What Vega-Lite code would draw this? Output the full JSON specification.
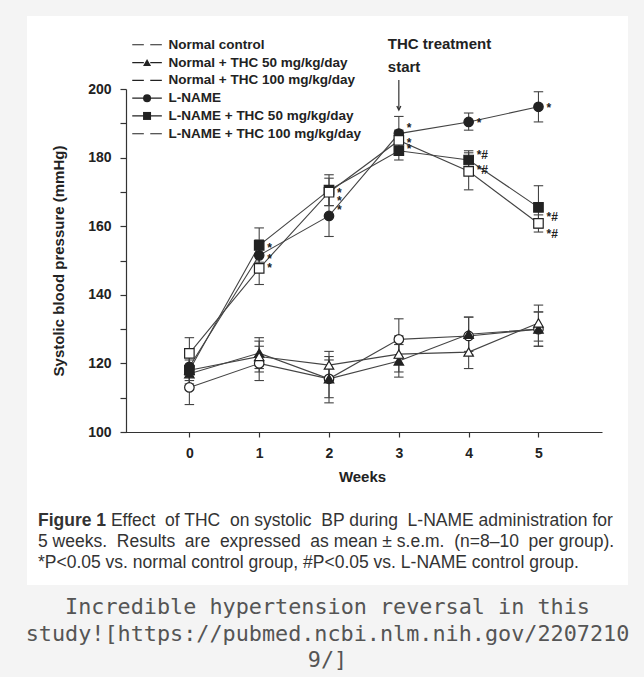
{
  "$schema": "https://vega.github.io/schema/vega-lite/v6.json",
  "background": "#f4f4f4",
  "padding": {"left": 25, "top": 16, "right": 18, "bottom": 5},
  "title": {
    "text": ["Incredible hypertension reversal in this", "study![https://pubmed.ncbi.nlm.nih.gov/2207210", "9/]"],
    "orient": "bottom", "anchor": "middle", "offset": 12,
    "font": "DejaVu Sans Mono", "fontSize": 21.8, "fontWeight": "normal", "color": "#555555", "lineHeight": 26.5
  },
  "config": {
    "view": {"stroke": null, "fill": "white"},
    "axis": {"grid": false, "domainColor": "#333333", "tickColor": "#333333", "domainWidth": 1.2, "tickWidth": 1.2,
      "labelFont": "Liberation Sans", "labelFontWeight": "bold", "labelColor": "#222222", "labelFontSize": 14,
      "titleFont": "Liberation Sans", "titleFontWeight": "bold", "titleColor": "#222222", "titleFontSize": 15}
  },
  "datasets": {
    "bp": [
      {"week": 0, "group": "Normal control", "mean": 113, "lo": 108, "hi": 118},
      {"week": 1, "group": "Normal control", "mean": 120, "lo": 115, "hi": 125},
      {"week": 2, "group": "Normal control", "mean": 115.5, "lo": 110, "hi": 121},
      {"week": 3, "group": "Normal control", "mean": 127, "lo": 121.5, "hi": 133},
      {"week": 4, "group": "Normal control", "mean": 128, "lo": 122.5, "hi": 133.5},
      {"week": 5, "group": "Normal control", "mean": 130, "lo": 125, "hi": 135},
      {"week": 0, "group": "Normal + THC 50 mg/kg/day", "mean": 117, "lo": 113, "hi": 121},
      {"week": 1, "group": "Normal + THC 50 mg/kg/day", "mean": 123, "lo": 118.5, "hi": 127.5},
      {"week": 2, "group": "Normal + THC 50 mg/kg/day", "mean": 115.5, "lo": 108.5, "hi": 122},
      {"week": 3, "group": "Normal + THC 50 mg/kg/day", "mean": 120.7, "lo": 116, "hi": 125.5},
      {"week": 4, "group": "Normal + THC 50 mg/kg/day", "mean": 128.5, "lo": 123.5, "hi": 133.5},
      {"week": 5, "group": "Normal + THC 50 mg/kg/day", "mean": 130, "lo": 125, "hi": 135},
      {"week": 0, "group": "Normal + THC 100 mg/kg/day", "mean": 118, "lo": 113.5, "hi": 122.5},
      {"week": 1, "group": "Normal + THC 100 mg/kg/day", "mean": 122, "lo": 117.5, "hi": 126.5},
      {"week": 2, "group": "Normal + THC 100 mg/kg/day", "mean": 119.5, "lo": 115.5, "hi": 123.5},
      {"week": 3, "group": "Normal + THC 100 mg/kg/day", "mean": 122.7, "lo": 117.5, "hi": 128},
      {"week": 4, "group": "Normal + THC 100 mg/kg/day", "mean": 123.3, "lo": 118.5, "hi": 128},
      {"week": 5, "group": "Normal + THC 100 mg/kg/day", "mean": 131.8, "lo": 126.5, "hi": 137},
      {"week": 0, "group": "L-NAME", "mean": 119, "lo": 115, "hi": 123},
      {"week": 1, "group": "L-NAME", "mean": 151.5, "lo": 147, "hi": 156},
      {"week": 2, "group": "L-NAME", "mean": 163, "lo": 157, "hi": 169},
      {"week": 3, "group": "L-NAME", "mean": 187, "lo": 182, "hi": 192},
      {"week": 4, "group": "L-NAME", "mean": 190.4, "lo": 188, "hi": 193},
      {"week": 5, "group": "L-NAME", "mean": 194.8, "lo": 190.4, "hi": 199.2},
      {"week": 0, "group": "L-NAME + THC 50 mg/kg/day", "mean": 118, "lo": 114, "hi": 122},
      {"week": 1, "group": "L-NAME + THC 50 mg/kg/day", "mean": 154.4, "lo": 149.5, "hi": 159.5},
      {"week": 2, "group": "L-NAME + THC 50 mg/kg/day", "mean": 170.5, "lo": 166, "hi": 175},
      {"week": 3, "group": "L-NAME + THC 50 mg/kg/day", "mean": 182, "lo": 179.3, "hi": 185},
      {"week": 4, "group": "L-NAME + THC 50 mg/kg/day", "mean": 179.3, "lo": 176.5, "hi": 182},
      {"week": 5, "group": "L-NAME + THC 50 mg/kg/day", "mean": 165.5, "lo": 159.5, "hi": 171.8},
      {"week": 0, "group": "L-NAME + THC 100 mg/kg/day", "mean": 122.9, "lo": 118.5, "hi": 127.5},
      {"week": 1, "group": "L-NAME + THC 100 mg/kg/day", "mean": 147.7, "lo": 143, "hi": 152},
      {"week": 2, "group": "L-NAME + THC 100 mg/kg/day", "mean": 169.9, "lo": 166, "hi": 174},
      {"week": 3, "group": "L-NAME + THC 100 mg/kg/day", "mean": 185, "lo": 182, "hi": 188},
      {"week": 4, "group": "L-NAME + THC 100 mg/kg/day", "mean": 176, "lo": 170.6, "hi": 181.4},
      {"week": 5, "group": "L-NAME + THC 100 mg/kg/day", "mean": 160.8, "lo": 158.3, "hi": 163.3}
    ],
    "sig": [
      {"week": 1, "value": 154.2, "label": "*"},
      {"week": 1, "value": 151.1, "label": "*"},
      {"week": 1, "value": 148.5, "label": "*"},
      {"week": 2, "value": 170.3, "label": "*"},
      {"week": 2, "value": 167.9, "label": "*"},
      {"week": 2, "value": 165.3, "label": "*"},
      {"week": 3, "value": 189.2, "label": "*"},
      {"week": 3, "value": 184.9, "label": "*"},
      {"week": 3, "value": 183, "label": "*"},
      {"week": 4, "value": 190.7, "label": "*"},
      {"week": 4, "value": 181.3, "label": "*#"},
      {"week": 4, "value": 176.9, "label": "*#"},
      {"week": 5, "value": 195, "label": "*"},
      {"week": 5, "value": 163.3, "label": "*#"},
      {"week": 5, "value": 158.4, "label": "*#"}
    ],
    "note": [
      {"week": 3, "label": "THC treatment start"}
    ]
  },
  "vconcat": [
    {
      "width": 601,
      "height": 569,
      "title": {
        "text": "Figure 1",
        "subtitle": [
          "\u200b\u00a0\u00a0\u00a0\u00a0\u00a0\u00a0\u00a0\u00a0\u00a0\u00a0\u00a0\u00a0\u00a0\u00a0\u00a0Effect \u00a0of THC \u00a0on systolic \u00a0BP during \u00a0L-NAME administration for",
          "5 weeks. \u00a0Results \u00a0are \u00a0expressed \u00a0as mean ± s.e.m. \u00a0(n=8–10 \u00a0per group).",
          "*P<0.05 vs. normal control group, #P<0.05 vs. L-NAME control group."
        ],
        "orient": "bottom", "anchor": "start", "frame": "group", "offset": -73, "dx": 11,
        "font": "Liberation Sans", "fontSize": 17.5, "fontWeight": "bold", "color": "#333333",
        "subtitleFont": "Liberation Sans", "subtitleFontSize": 17.5, "subtitleColor": "#333333",
        "subtitleLineHeight": 21, "subtitlePadding": -17.5
      },
      "layer": [
        {
          "data": {"name": "bp"},
          "mark": {"type": "line", "color": "#444444", "strokeWidth": 1.1},
          "encoding": {
            "x": {"field": "week", "type": "quantitative",
              "scale": {"domain": [-0.965, 5.91], "range": [95, 575], "nice": false, "zero": false},
              "axis": {"values": [0, 1, 2, 3, 4, 5], "format": "d", "offset": -153, "title": "Weeks", "tickSize": 5, "labelPadding": 9, "titlePadding": 9, "labelFlush": false}},
            "y": {"field": "mean", "type": "quantitative",
              "scale": {"domain": [100, 200], "range": [416, 73], "nice": false, "zero": false},
              "axis": {"values": [100, 110, 120, 130, 140, 150, 160, 170, 180, 190, 200],
                "labelExpr": "datum.value % 20 === 0 ? datum.label : ''",
                "offset": -99, "title": "Systolic blood pressure (mmHg)", "tickSize": 6, "labelPadding": 9, "titlePadding": 21}},
            "detail": {"field": "group"}
          }
        },
        {
          "data": {"name": "bp"},
          "mark": {"type": "rule", "color": "#444444", "strokeWidth": 1.1},
          "encoding": {
            "x": {"field": "week", "type": "quantitative"},
            "y": {"field": "lo", "type": "quantitative"},
            "y2": {"field": "hi"}
          }
        },
        {
          "data": {"name": "bp"},
          "mark": {"type": "point", "shape": "M-1,0H1", "size": 90, "stroke": "#444444", "strokeWidth": 1.1, "filled": false, "opacity": 1},
          "encoding": {
            "x": {"field": "week", "type": "quantitative"},
            "y": {"field": "lo", "type": "quantitative"}
          }
        },
        {
          "data": {"name": "bp"},
          "mark": {"type": "point", "shape": "M-1,0H1", "size": 90, "stroke": "#444444", "strokeWidth": 1.1, "filled": false, "opacity": 1},
          "encoding": {
            "x": {"field": "week", "type": "quantitative"},
            "y": {"field": "hi", "type": "quantitative"}
          }
        },
        {
          "data": {"name": "bp"},
          "mark": {"type": "point", "filled": true, "stroke": "#222222", "strokeWidth": 1.2, "size": 90, "opacity": 1},
          "encoding": {
            "x": {"field": "week", "type": "quantitative"},
            "y": {"field": "mean", "type": "quantitative"},
            "shape": {"field": "group", "type": "nominal",
              "scale": {"domain": ["Normal control", "Normal + THC 50 mg/kg/day", "Normal + THC 100 mg/kg/day", "L-NAME", "L-NAME + THC 50 mg/kg/day", "L-NAME + THC 100 mg/kg/day"],
                "range": ["circle", "triangle-up", "triangle-up", "circle", "square", "square"]},
              "legend": {"orient": "none", "legendX": 113.3, "legendY": 22, "title": null, "padding": 0,
                "labelFont": "Liberation Sans", "labelFontSize": 13.5, "labelFontWeight": "bold", "labelColor": "#222222", "labelLimit": 300,
                "symbolSize": 64, "labelOffset": 14.7, "rowPadding": 2.8, "symbolStrokeWidth": 1.2, "symbolStrokeColor": "#222222"}},
            "fill": {"field": "group", "type": "nominal",
              "scale": {"domain": ["Normal control", "Normal + THC 50 mg/kg/day", "Normal + THC 100 mg/kg/day", "L-NAME", "L-NAME + THC 50 mg/kg/day", "L-NAME + THC 100 mg/kg/day"],
                "range": ["#ffffff", "#222222", "#ffffff", "#222222", "#222222", "#ffffff"]},
              "legend": {"orient": "none", "legendX": 113.3, "legendY": 22, "title": null, "padding": 0,
                "labelFont": "Liberation Sans", "labelFontSize": 13.5, "labelFontWeight": "bold", "labelColor": "#222222", "labelLimit": 300,
                "symbolSize": 64, "labelOffset": 14.7, "rowPadding": 2.8, "symbolStrokeWidth": 1.2, "symbolStrokeColor": "#222222"}},
            "stroke": {"field": "group", "type": "nominal",
              "scale": {"domain": ["L-NAME + THC 100 mg/kg/day", "L-NAME + THC 50 mg/kg/day", "L-NAME", "Normal + THC 100 mg/kg/day", "Normal + THC 50 mg/kg/day", "Normal control"],
                "range": ["#222222", "#222222", "#222222", "#222222", "#222222", "#222222"]},
              "legend": {"orient": "none", "legendX": 113.3, "legendY": 22, "title": null, "padding": 0,
                "labelFont": "Liberation Sans", "labelFontSize": 13.5, "labelFontWeight": "bold", "labelColor": "#222222", "labelExpr": "''", "labelLimit": 300,
                "symbolSize": 64, "labelOffset": 14.7, "rowPadding": 2.8,
                "symbolType": "M-3.7,0H-0.8M0.8,0H3.7", "symbolStrokeWidth": 1.2}}
          }
        },
        {
          "data": {"name": "sig"},
          "mark": {"type": "text", "align": "left", "baseline": "middle", "dx": 8, "dy": 2, "font": "Liberation Sans", "fontSize": 12, "fontWeight": "bold", "color": "#222222"},
          "encoding": {
            "x": {"field": "week", "type": "quantitative"},
            "y": {"field": "value", "type": "quantitative"},
            "text": {"field": "label"}
          }
        },
        {
          "data": {"name": "note"},
          "mark": {"type": "text", "text": ["THC treatment", "start"], "align": "left", "baseline": "middle", "dx": -11, "lineHeight": 22.7, "font": "Liberation Sans", "fontSize": 15, "fontWeight": "bold", "color": "#222222"},
          "encoding": {
            "x": {"field": "week", "type": "quantitative"},
            "y": {"datum": 213, "type": "quantitative"}
          }
        },
        {
          "data": {"name": "note"},
          "mark": {"type": "rule", "color": "#333333", "strokeWidth": 1.2},
          "encoding": {
            "x": {"field": "week", "type": "quantitative"},
            "y": {"datum": 202.6, "type": "quantitative"},
            "y2": {"datum": 194}
          }
        },
        {
          "data": {"name": "note"},
          "mark": {"type": "point", "shape": "M-1,-2L0,0L1,-2", "size": 16, "stroke": "#333333", "strokeWidth": 1.3, "filled": false, "opacity": 1},
          "encoding": {
            "x": {"field": "week", "type": "quantitative"},
            "y": {"datum": 193.9, "type": "quantitative"}
          }
        }
      ]
    }
  ]
}
